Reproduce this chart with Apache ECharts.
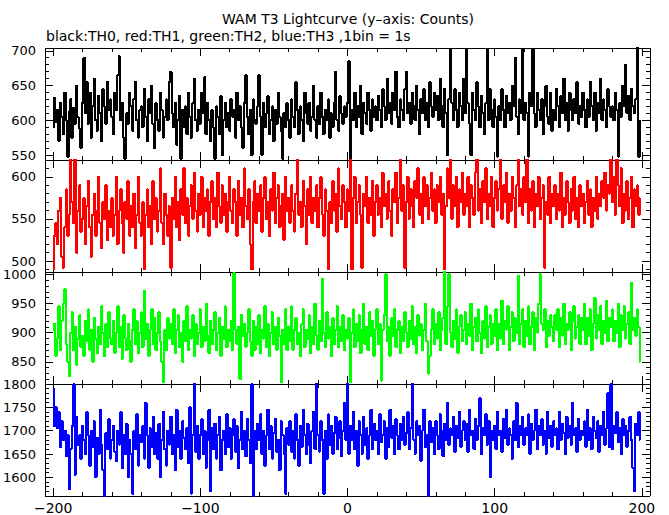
<!DOCTYPE html>
<html>
<head>
<meta charset="utf-8">
<script src="https://cdn.jsdelivr.net/npm/echarts@6/dist/echarts.min.js"></script>
<style>html,body{margin:0;padding:0;background:#fff}#c{width:669px;height:515px}#c svg path{shape-rendering:crispEdges}</style>
</head>
<body>
<div id="c"></div>
<script>
const titleText = 'WAM T3 Lightcurve (y\u2013axis: Counts)';
const subtitleText = 'black:TH0, red:TH1, green:TH2, blue:TH3 ,1bin = 1s';
const binStart = -200;
const xTickLabels = [-200, -100, 0, 100, 200];

const th0 = [
590,632,598,615,570,625,605,580,640,600,548,612,630,575,618,595,650,605,588,560,
625,690,610,655,595,640,575,620,660,600,585,635,610,570,645,620,595,655,615,630,
605,580,640,615,665,692,600,625,575,545,610,595,640,620,585,630,655,600,575,615,
620,590,645,605,570,630,610,650,595,560,625,600,585,640,615,575,605,630,600,655,
670,610,590,625,565,600,635,545,615,590,620,580,640,605,575,625,660,600,585,615,
595,640,610,662,580,625,600,570,615,590,545,620,605,580,635,550,600,625,590,610,
585,630,605,615,575,640,600,620,590,560,625,665,605,580,615,550,630,600,595,620,
665,605,550,625,590,610,635,580,600,620,570,615,595,640,605,585,545,610,590,625,
600,575,630,605,590,655,615,580,620,600,570,640,610,595,625,585,605,650,600,575,
620,595,640,605,580,615,600,630,575,610,590,625,670,600,585,635,610,595,620,605,
625,685,545,615,600,640,590,620,605,650,580,625,610,595,640,615,585,630,605,620,
600,635,615,590,645,620,600,660,610,625,595,640,615,670,605,590,630,615,600,645,
670,610,625,595,640,620,600,650,615,580,630,610,645,600,625,590,655,620,605,640,
615,635,600,660,620,590,645,610,550,630,703,625,600,645,615,590,640,620,600,660,
610,703,625,595,550,640,615,600,655,620,590,635,610,580,625,703,600,645,615,590,
630,605,548,620,600,645,615,590,635,610,625,600,650,620,690,605,580,630,610,703,
600,625,610,548,640,620,703,610,590,640,615,600,630,580,620,650,605,595,640,585,
615,600,645,620,590,635,610,660,600,625,585,640,615,600,630,610,655,595,620,605,
640,615,590,630,605,655,620,600,640,585,625,610,660,600,630,615,590,645,620,605,
620,600,640,615,548,625,605,650,620,680,610,635,600,645,620,610,630,705,548,600
];
const th1 = [
490,530,545,520,560,575,505,492,540,585,530,555,622,570,545,622,510,560,590,535,
550,575,520,565,595,540,505,555,580,530,560,600,545,515,570,550,590,525,560,540,
575,530,555,600,520,560,585,545,510,570,550,595,530,565,540,580,515,555,600,545,
530,570,490,555,585,540,565,520,595,550,575,535,560,610,545,520,580,555,530,565,
492,575,550,600,540,570,525,585,555,610,545,575,530,565,590,550,605,560,535,580,
555,600,540,575,560,585,530,570,595,550,575,540,605,565,545,590,555,580,535,570,
600,560,545,585,570,530,595,555,575,540,610,565,550,585,520,490,570,595,545,580,
560,590,535,575,600,550,570,530,585,560,605,545,575,590,540,565,580,525,600,560,
575,545,590,560,535,580,622,555,570,540,595,565,520,585,555,600,545,575,560,590,
540,575,600,555,530,585,560,490,570,545,595,560,580,535,610,565,550,590,570,540,
585,560,622,490,575,600,545,570,590,555,492,580,565,600,545,575,555,595,530,570,
590,555,575,540,605,565,580,550,595,560,530,585,570,605,545,575,622,560,590,492,
570,600,550,585,565,540,595,575,610,555,580,545,600,565,590,550,575,605,560,585,
545,590,570,600,555,580,490,565,610,575,622,550,590,565,600,540,585,570,605,555,
580,565,600,540,590,575,555,605,622,560,585,545,595,570,610,550,580,565,600,540,
575,595,560,585,622,550,590,570,605,545,580,560,600,575,540,590,622,565,585,555,
600,570,622,545,585,560,595,540,580,565,600,550,575,590,492,570,555,600,545,580,
565,590,550,580,560,605,540,575,555,595,570,545,585,560,600,550,575,540,590,565,
580,545,570,595,555,585,540,575,560,600,550,580,565,595,575,605,560,590,580,622,
570,600,555,622,590,565,610,545,580,560,595,550,575,600,540,585,565,590,555,575
];
const th2 = [
905,915,860,890,945,870,920,950,975,880,850,825,900,935,870,910,845,890,930,875,
895,860,920,885,940,870,905,850,925,890,865,910,880,945,900,860,915,875,935,890,
880,920,865,900,945,875,910,855,930,890,870,915,885,850,905,940,880,920,865,900,
935,875,972,890,915,860,905,940,880,925,870,900,935,885,850,815,905,870,925,890,
915,880,940,865,905,930,875,900,850,920,885,945,870,905,890,930,860,915,880,900,
940,875,910,885,950,895,865,920,880,905,935,870,900,925,860,910,890,945,875,905,
885,920,870,1002,905,880,910,820,930,895,915,875,900,940,885,860,920,870,910,880,
930,865,905,890,945,875,915,860,900,935,880,910,870,925,895,815,905,880,940,870,
910,885,945,870,905,925,880,900,860,915,940,875,905,890,930,865,910,880,950,895,
870,920,885,992,900,875,935,890,910,860,925,880,905,945,875,910,885,930,870,905,
890,925,815,900,940,875,915,885,930,865,905,950,880,910,870,935,895,920,860,905,
940,880,915,818,905,930,1000,885,910,860,925,895,940,875,905,920,865,910,885,935,
900,875,920,890,945,880,910,865,930,895,915,870,905,950,885,830,860,905,940,880,
915,890,935,870,905,925,1004,880,945,1000,900,875,920,890,940,865,910,930,885,905,
935,880,915,895,950,870,910,925,885,940,900,865,920,890,945,875,910,930,880,915,
895,940,870,915,890,955,880,920,905,945,870,910,935,885,925,900,998,880,915,940,
875,920,895,945,880,910,935,870,925,900,950,1000,915,905,940,875,920,895,930,910,
885,930,905,940,875,925,895,950,880,915,905,935,870,920,945,890,910,930,880,925,
905,950,880,925,895,940,870,915,960,890,930,905,945,880,920,900,955,885,925,910,
940,885,920,900,950,875,930,905,945,890,915,935,880,985,905,925,895,940,910,850
];
const th3 = [
1790,1710,1750,1705,1740,1665,1720,1680,1700,1645,1690,1575,1660,1710,1800,1605,1730,1670,1690,1640,
1710,1680,1650,1740,1690,1625,1700,1665,1720,1600,1685,1650,1745,1670,1615,1560,1695,1660,1725,1640,
1680,1710,1655,1635,1700,1670,1740,1620,1690,1650,1715,1600,1680,1650,1565,1700,1660,1735,1625,1690,
1675,1710,1640,1760,1690,1620,1705,1665,1730,1650,1695,1640,1715,1600,1680,1740,1660,1625,1700,1670,
1730,1650,1690,1615,1745,1665,1700,1640,1720,1685,1660,1705,1630,1750,1565,1690,1800,1655,1710,1640,
1690,1725,1650,1700,1620,1680,1745,1570,1705,1660,1715,1640,1690,1730,1615,1680,1700,1650,1735,1665,
1705,1640,1690,1725,1655,1710,1620,1680,1740,1660,1700,1645,1725,1680,1630,1800,1560,1700,1660,1715,
1680,1735,1650,1700,1625,1690,1745,1660,1710,1640,1695,1725,1655,1680,1615,1720,1690,1650,1565,1705,
1670,1720,1655,1700,1640,1735,1680,1625,1710,1665,1745,1690,1650,1715,1670,1630,1700,1740,1660,1800,
1690,1655,1720,1680,1565,1700,1640,1735,1670,1710,1650,1695,1730,1660,1685,1720,1645,1700,1760,1680,
1800,1650,1710,1680,1740,1660,1700,1625,1720,1690,1650,1730,1670,1705,1640,1690,1745,1660,1715,1680,
1700,1650,1735,1675,1690,1720,1640,1705,1665,1745,1685,1710,1650,1725,1690,1660,1715,1680,1730,1670,
1695,1740,1660,1705,1800,1680,1650,1720,1690,1710,1635,1700,1745,1665,1690,1560,1720,1675,1705,1650,
1720,1690,1660,1735,1700,1645,1715,1680,1760,1670,1705,1690,1730,1655,1710,1685,1740,1665,1700,1720,
1680,1715,1655,1745,1690,1700,1660,1725,1680,1710,1770,1650,1705,1690,1735,1670,1720,1600,1700,1680,
1710,1660,1740,1690,1700,1655,1725,1685,1745,1670,1705,1690,1640,1720,1680,1760,1665,1710,1690,1730,
1670,1705,1690,1735,1650,1715,1680,1700,1745,1660,1710,1690,1725,1670,1700,1650,1740,1685,1710,1665,
1720,1690,1705,1660,1740,1680,1715,1695,1650,1730,1685,1710,1670,1760,1690,1705,1655,1725,1680,1700,
1690,1720,1665,1745,1680,1705,1660,1730,1700,1685,1720,1655,1710,1690,1740,1670,1705,1780,1665,1800,
1660,1710,1695,1740,1675,1705,1650,1725,1690,1710,1665,1700,1730,1680,1620,1570,1715,1690,1740,1680
];

const seriesData = [th0, th1, th2, th3];
const seriesColors = ['#000000', '#ff0000', '#00ff00', '#0000ff'];
const yRanges = [[543, 704], [487, 620], [812, 1004], [1560, 1800]];
const yTickLabels = [[550, 600, 650, 700], [500, 550, 600], [850, 900, 950, 1000], [1600, 1650, 1700, 1750, 1800]];
const yLabelPads = [[0, 0, 0, 0], [0, 0, 4, 0], [4, 0, 0, 0], [0, 0, 0, 0]];

const FONT = 'DejaVu Sans';
const gridTops = [48, 160, 272, 384];
const gridH = 112;
const xMin = -205.5, xMax = 205.5;

function steps(a, b, s) { const r = []; for (let v = a; v <= b + 1e-9; v += s) r.push(v); return r; }
const xMinorTicks = steps(-200, 200, 20);

const lineStyle = { color: '#000', width: 1 };
const grids = [], xAxes = [], yAxes = [], series = [];

for (let g = 0; g < 4; g++) {
  grids.push({ left: 45, width: 605, top: gridTops[g], height: gridH, containLabel: false });
  const xb = { type: 'value', gridIndex: g, min: xMin, max: xMax, splitLine: { show: false },
    axisLine: { show: true, onZero: false, lineStyle }, axisLabel: { show: false } };
  const isLast = g === 3;
  xAxes.push(Object.assign({}, xb, { position: 'bottom',
    axisTick: { show: true, inside: true, length: 8, customValues: xTickLabels, lineStyle },
    axisLabel: { show: isLast, customValues: xTickLabels, margin: 5, color: '#000', fontFamily: FONT, fontSize: 14,
      formatter: v => String(v).replace('-', '\u2212') } }));
  xAxes.push(Object.assign({}, xb, { position: 'bottom', axisLine: { show: false, onZero: false },
    axisTick: { show: true, inside: true, length: 4, customValues: xMinorTicks, lineStyle } }));
  xAxes.push(Object.assign({}, xb, { position: 'top',
    axisTick: { show: true, inside: true, length: 8, customValues: xTickLabels, lineStyle } }));
  xAxes.push(Object.assign({}, xb, { position: 'top', axisLine: { show: false, onZero: false },
    axisTick: { show: true, inside: true, length: 4, customValues: xMinorTicks, lineStyle } }));

  const [ymin, ymax] = yRanges[g];
  const yMinor = steps(Math.ceil(ymin / 10) * 10, ymax, 10);
  const yb = { type: 'value', gridIndex: g, min: ymin, max: ymax, splitLine: { show: false },
    axisLine: { show: true, onZero: false, lineStyle }, axisLabel: { show: false } };
  yAxes.push(Object.assign({}, yb, { position: 'left',
    axisTick: { show: true, inside: true, length: 8, customValues: yTickLabels[g], lineStyle },
    axisLabel: { show: true, customValues: yTickLabels[g], margin: 9, color: '#000', fontFamily: FONT, fontSize: 13,
      lineHeight: 12, padding: yLabelPads[g], formatter: v => String(v) } }));
  yAxes.push(Object.assign({}, yb, { position: 'left', axisLine: { show: false, onZero: false },
    axisTick: { show: true, inside: true, length: 4, customValues: yMinor, lineStyle } }));
  yAxes.push(Object.assign({}, yb, { position: 'right',
    axisTick: { show: true, inside: true, length: 8, customValues: yTickLabels[g], lineStyle } }));
  yAxes.push(Object.assign({}, yb, { position: 'right', axisLine: { show: false, onZero: false },
    axisTick: { show: true, inside: true, length: 4, customValues: yMinor, lineStyle } }));

  series.push({
    type: 'line', xAxisIndex: g * 4, yAxisIndex: g * 4, step: 'middle', showSymbol: false, symbol: 'none',
    clip: true, silent: true, animation: false,
    lineStyle: { color: seriesColors[g], width: 2 },
    data: seriesData[g].map((v, i) => [binStart + i, v])
  });
}

const chart = echarts.init(document.getElementById('c'), null, { renderer: 'svg' });
chart.setOption({
  backgroundColor: '#fff',
  animation: false,
  title: [
    { text: titleText, left: 222, top: 12, padding: 0, textStyle: { fontFamily: FONT, fontSize: 14, fontWeight: 'normal', color: '#000' } },
    { text: subtitleText, left: 46, top: 29, padding: 0, textStyle: { fontFamily: FONT, fontSize: 14, fontWeight: 'normal', color: '#000' } }
  ],
  grid: grids,
  xAxis: xAxes,
  yAxis: yAxes,
  series: series
});
</script>
</body>
</html>
